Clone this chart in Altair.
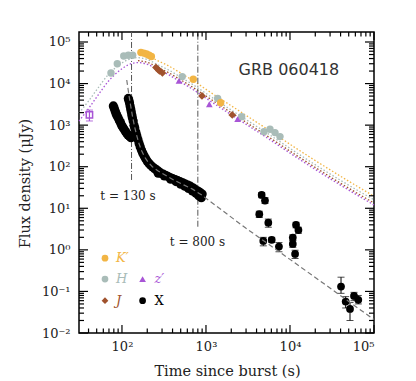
import altair as alt
import pandas as pd

# ---------------- data ----------------
# optical / NIR photometry
K_t = [168, 182, 196, 210, 224, 706, 1496]
K_F = [56000, 54000, 51500, 48000, 44800, 12700, 3480]
H_t = [74, 88, 105, 119, 134, 522, 1377, 2660, 4900, 5780, 6630, 7600]
H_F = [18000, 30000, 46000, 48000, 48000, 14700, 4360, 1600, 698, 797, 662, 530]
J_t = [254, 268, 279, 303, 896, 2055]
J_F = [24400, 22000, 20100, 18000, 5040, 1760]
Z_t = [477, 1096, 2380]
Z_F = [11550, 3180, 1390]
Zsq_t = [41]
Zsq_F = [1760]
Zsq_lo = [1260]
Zsq_hi = [2300]

# model light curves (dotted)
mod_t = [30.8, 40, 52, 68, 90, 118, 155, 205, 270, 355, 480, 700, 1100, 2400, 5000, 13000, 40000, 100000]
modZ_F = [1250, 2500, 5300, 11000, 19300, 28000, 32000, 28500, 21500, 16500, 11500, 7200, 3900, 1400, 540, 150, 36, 12]
modH_F = [1950, 3800, 7900, 16000, 27000, 37500, 42000, 37000, 28000, 21500, 15000, 9400, 5100, 1820, 700, 195, 47, 16]
mod2_t = [155, 205, 270, 355, 480, 700, 1100, 2400, 5000, 13000, 40000, 100000]
modK_F = [52000, 46500, 35000, 27000, 18800, 11800, 6400, 2300, 880, 245, 59, 19.5]
modJ_F = [35800, 31900, 24100, 18500, 12900, 8100, 4400, 1570, 600, 168, 40, 13.4]

# X-ray, dense early part
xr_t = [79, 81, 83, 85, 87, 90, 93, 96, 99, 102, 106, 110, 114, 118, 123, 128,
        119, 121, 123, 125, 127, 129, 131, 133, 136, 139, 142, 146, 150, 155, 160, 165,
        171, 177, 184, 192, 200, 210, 220, 232, 245, 260, 275, 290, 310, 330, 350, 375,
        400, 430, 460, 490, 530, 570, 610, 650, 700, 750, 800, 850, 900,
        880, 820, 760, 690, 620, 560, 500, 440, 380, 320, 270]
xr_F = [2900, 2500, 2200, 1900, 1700, 1500, 1300, 1150, 1000, 900, 800, 700, 640, 580, 540, 500,
        4400, 3900, 3400, 2900, 2450, 2100, 1750, 1500, 1250, 1000, 850, 680, 560, 450, 360, 300,
        250, 210, 180, 155, 135, 120, 108, 98, 90, 83, 76, 70, 66, 62, 59, 55,
        52, 49, 46, 44, 41, 38, 36, 34, 31, 28, 26, 24, 22,
        18, 20, 23, 26, 30, 34, 38, 44, 50, 60, 70]

# X-ray, later points with error bars
xl_t = [4600, 5040, 4310, 5520, 4810, 6060, 7390, 10800, 10800, 11500, 11800, 12600,
        40500, 46000, 51800, 57800, 65000]
xl_F = [21, 15.3, 7.2, 4.5, 1.64, 1.74, 1.2, 1.98, 1.39, 0.80, 4.0, 3.0,
        0.131, 0.057, 0.038, 0.078, 0.063]
xl_lo = [18, 13, 6.0, 3.5, 1.25, 1.5, 0.9, 1.7, 1.15, 0.62, 3.4, 2.5,
         0.09, 0.04, 0.02, 0.06, 0.05]
xl_hi = [24, 18, 8.5, 5.5, 2.0, 2.0, 1.5, 2.3, 1.65, 0.98, 4.6, 3.5,
         0.22, 0.075, 0.054, 0.095, 0.08]

# X-ray model (dashed)
xm_t = [114, 118, 122, 127, 133, 140, 148, 158, 170, 185, 205, 230, 270, 330, 420, 550, 700, 900,
        3000, 10000, 100000]
xm_F = [12200, 7500, 4800, 2900, 1700, 1000, 620, 380, 250, 175, 128, 100, 79, 62, 47, 36, 28.5, 20.5,
        3.3, 0.59, 0.021]

# vertical markers
vl_t = [130, 800]
vl_F = [48, 3.6]

# annotations (position in data units)
ann_text = ["t = 130 s", "t = 800 s"]
ann_t = [118, 792]
ann_F = [19.9, 1.56]
title_text = ["GRB 060418"]
title_t = [9700]
title_F = [21200]

# legend
leg_lab = ["K′", "H", "J", "z′"]
leg_col = ["#F2B544", "#A9BCB8", "#A0522D", "#A855D6"]
leg_shape = ["circle", "circle", "diamond", "triangle-up"]
leg_pt_t = [62.8, 62.8, 62.8, 176]
leg_tx_t = [84.9, 84.9, 84.9, 244]
leg_F = [0.63, 0.198, 0.060, 0.198]
legX_pt_t = [176]
legX_tx_t = [244]
legX_F = [0.060]

# axis ticks
xt_major = [100, 1000, 10000, 100000]
xt_minor = [k * 10 ** n for n in range(1, 5) for k in range(2, 10) if k * 10 ** n > 31]
yt_major = [0.01, 0.1, 1, 10, 100, 1000, 10000, 100000]
yt_minor = [k * 10.0 ** n for n in range(-2, 5) for k in range(2, 10)]

COL_K, COL_H, COL_J, COL_Z = leg_col
W, H = 295, 301
xs = alt.Scale(type="log", domain=[30.8, 1e5], nice=False)
ys = alt.Scale(type="log", domain=[0.01, 1.74e5], nice=False)
SERIF = "DejaVu Serif"
sup = "'10' + ['⁻²','⁻¹','⁰','¹','²','³','⁴','⁵'][round(log(datum.value)/LN10)+2]"

x_axis = alt.Axis(values=xt_major, ticks=False, domain=False, grid=False, labelExpr=sup,
                  labelFont=SERIF, labelFontSize=13, labelPadding=7, labelColor="#222",
                  title="Time since burst (s)", titleFont=SERIF, titleFontSize=14.5,
                  titleFontWeight="normal", titleColor="#222", titleX=148, titleY=38,
                  titleBaseline="middle", titleAlign="center")
y_axis = alt.Axis(values=yt_major, ticks=False, domain=False, grid=False, labelExpr=sup,
                  labelFont=SERIF, labelFontSize=13, labelPadding=9, labelColor="#222",
                  title="Flux density (μJy)", titleFont=SERIF, titleFontSize=14.5,
                  titleFontWeight="normal", titleColor="#222", titleX=-54, titleY=151,
                  titleAngle=270, titleBaseline="middle", titleAlign="center")


def X(f="t"):
    return alt.X(f"{f}:Q", scale=xs, axis=x_axis)


def Y(f="F"):
    return alt.Y(f"{f}:Q", scale=ys, axis=y_axis)


def df(**kw):
    return pd.DataFrame(kw)


layers = []
# dotted model curves
for tt, ff, cc in ((mod_t, modZ_F, COL_Z), (mod_t, modH_F, COL_H),
                   (mod2_t, modK_F, COL_K), (mod2_t, modJ_F, COL_J)):
    layers.append(alt.Chart(df(t=tt, F=ff)).mark_line(
        color=cc, strokeDash=[1.5, 2], strokeWidth=1.3, interpolate="monotone"
    ).encode(x=X(), y=Y()))

# vertical dash-dot markers
layers.append(alt.Chart(df(t=vl_t, F=vl_F)).mark_rule(
    color="#555", strokeDash=[6, 2, 1, 2], strokeWidth=1
).encode(x=X(), y=Y(), y2=alt.value(0)))

# optical points
layers.append(alt.Chart(df(t=H_t, F=H_F)).mark_point(
    filled=True, shape="circle", size=55, color=COL_H, opacity=1).encode(x=X(), y=Y()))
layers.append(alt.Chart(df(t=K_t, F=K_F)).mark_point(
    filled=True, shape="circle", size=55, color=COL_K, opacity=1).encode(x=X(), y=Y()))
layers.append(alt.Chart(df(t=J_t, F=J_F)).mark_point(
    filled=True, shape="diamond", size=60, color=COL_J, opacity=1).encode(x=X(), y=Y()))
layers.append(alt.Chart(df(t=Z_t, F=Z_F)).mark_point(
    filled=True, shape="triangle-up", size=45, color=COL_Z, opacity=1).encode(x=X(), y=Y()))
layers.append(alt.Chart(df(t=Zsq_t, lo=Zsq_lo, hi=Zsq_hi)).mark_rule(
    color=COL_Z, strokeWidth=1.2).encode(x=X(), y=Y("lo"), y2="hi:Q"))
layers.append(alt.Chart(df(t=Zsq_t + Zsq_t, v=Zsq_lo + Zsq_hi)).mark_tick(
    orient="horizontal", size=7, thickness=1.2, color=COL_Z).encode(x=X(), y=Y("v")))
layers.append(alt.Chart(df(t=Zsq_t, F=Zsq_F)).mark_point(
    filled=False, shape="square", size=40, color=COL_Z, strokeWidth=1.5, opacity=1).encode(x=X(), y=Y()))

# X-ray
layers.append(alt.Chart(df(t=xr_t, F=xr_F)).mark_point(
    filled=True, shape="circle", size=85, color="black", opacity=1).encode(x=X(), y=Y()))
layers.append(alt.Chart(df(t=xl_t, lo=xl_lo, hi=xl_hi)).mark_rule(
    color="black", strokeWidth=1).encode(x=X(), y=Y("lo"), y2="hi:Q"))
layers.append(alt.Chart(df(t=xl_t + xl_t, v=xl_lo + xl_hi)).mark_tick(
    orient="horizontal", size=7, thickness=1, color="black").encode(x=X(), y=Y("v")))
layers.append(alt.Chart(df(t=xl_t, F=xl_F)).mark_point(
    filled=True, shape="circle", size=60, color="black", opacity=1).encode(x=X(), y=Y()))
layers.append(alt.Chart(df(t=xm_t, F=xm_F)).mark_line(
    color="#777", strokeDash=[5, 3], strokeWidth=1.2).encode(x=X(), y=Y()))

# annotations
layers.append(alt.Chart(df(t=ann_t, F=ann_F, s=ann_text)).mark_text(
    font=SERIF, fontSize=12, color="#222", align="center", baseline="middle"
).encode(x=X(), y=Y(), text="s:N"))
layers.append(alt.Chart(df(t=title_t, F=title_F, s=title_text)).mark_text(
    font="DejaVu Sans", fontSize=16, color="#333", align="center", baseline="middle"
).encode(x=X(), y=Y(), text="s:N"))

# legend
layers.append(alt.Chart(df(t=leg_pt_t, F=leg_F, c=leg_col, sh=leg_shape)).mark_point(
    filled=True, size=45, opacity=1
).encode(x=X(), y=Y(), color=alt.Color("c:N", scale=None), shape=alt.Shape("sh:N", scale=None)))
layers.append(alt.Chart(df(t=leg_tx_t, F=leg_F, c=leg_col, s=leg_lab)).mark_text(
    font=SERIF, fontSize=13, fontStyle="italic", align="left", baseline="middle"
).encode(x=X(), y=Y(), color=alt.Color("c:N", scale=None), text="s:N"))
layers.append(alt.Chart(df(t=legX_pt_t, F=legX_F)).mark_point(
    filled=True, shape="circle", size=45, color="black", opacity=1).encode(x=X(), y=Y()))
layers.append(alt.Chart(df(t=legX_tx_t, F=legX_F, s=["X"])).mark_text(
    font=SERIF, fontSize=13, color="black", align="left", baseline="middle"
).encode(x=X(), y=Y(), text="s:N"))

# inward frame ticks
for vals, ln in ((xt_major, 8), (xt_minor, 4.5)):
    d = df(v=vals)
    layers.append(alt.Chart(d).mark_rule(color="black", strokeWidth=1.2).encode(
        x=X("v"), y=alt.value(H), y2=alt.value(H - ln)))
    layers.append(alt.Chart(d).mark_rule(color="black", strokeWidth=1.2).encode(
        x=X("v"), y=alt.value(0), y2=alt.value(ln)))
for vals, ln in ((yt_major, 9), (yt_minor, 5)):
    d = df(v=vals)
    layers.append(alt.Chart(d).mark_rule(color="black", strokeWidth=1.2).encode(
        y=Y("v"), x=alt.value(0), x2=alt.value(ln)))
    layers.append(alt.Chart(d).mark_rule(color="black", strokeWidth=1.2).encode(
        y=Y("v"), x=alt.value(W), x2=alt.value(W - ln)))

chart = alt.layer(*layers).properties(
    width=W, height=H,
    autosize=alt.AutoSizeParams(type="none"),
    padding={"left": 71, "top": 24, "right": 34, "bottom": 48},
    background="white",
).configure_view(stroke="black", strokeWidth=1.5)

chart.save("out.html", embed_options={"renderer": "svg", "actions": False})
